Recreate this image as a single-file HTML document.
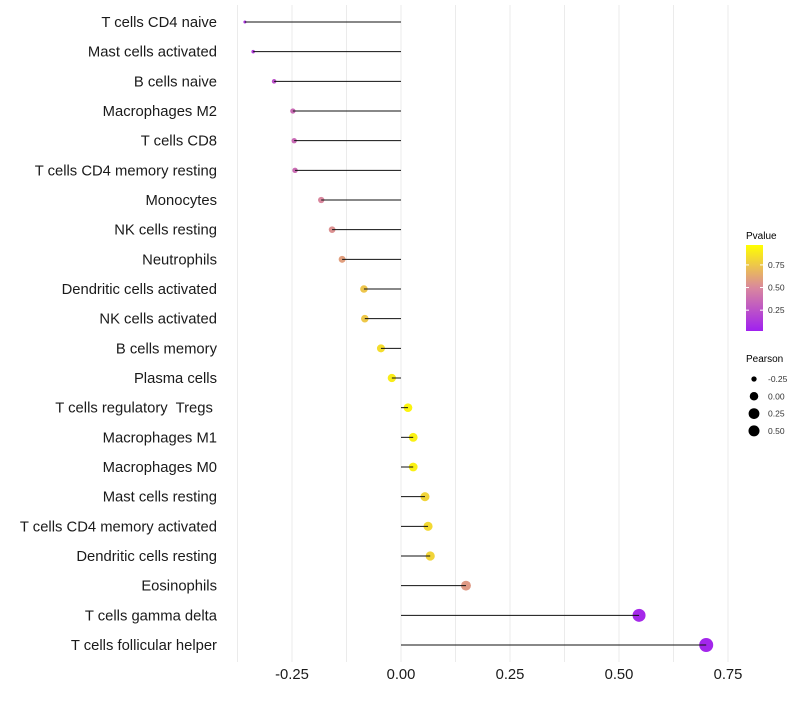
<!DOCTYPE html>
<html><head><meta charset="utf-8"><style>
body{margin:0;background:#fff;font-family:"Liberation Sans",sans-serif}
</style></head><body>
<svg id="c" width="800" height="700" xmlns="http://www.w3.org/2000/svg">
<defs><linearGradient id="pg" x1="0" y1="1" x2="0" y2="0">
<stop offset="0" stop-color="#a020f0"/><stop offset="0.5" stop-color="#d9879e"/><stop offset="1" stop-color="#ffff00"/>
</linearGradient></defs>
<g id="grid"></g>
<g id="dots"></g>
<g id="marks"></g>
<g id="ylab"></g>
<g id="xlab"></g>
<g>
<text x="746" y="239" font-size="10">Pvalue</text>
<rect x="746" y="245" width="17" height="86" fill="url(#pg)"/>
<g id="cbticks"></g>
</g>
<g id="sizeleg">
<text x="746" y="362" font-size="10">Pearson</text>
</g>
</svg>
<script>
const categories=["T cells CD4 naive","Mast cells activated","B cells naive","Macrophages M2","T cells CD8","T cells CD4 memory resting","Monocytes","NK cells resting","Neutrophils","Dendritic cells activated","NK cells activated","B cells memory","Plasma cells","T cells regulatory  Tregs ","Macrophages M1","Macrophages M0","Mast cells resting","T cells CD4 memory activated","Dendritic cells resting","Eosinophils","T cells gamma delta","T cells follicular helper"];
const pearson=[-0.358,-0.339,-0.291,-0.248,-0.245,-0.243,-0.183,-0.158,-0.135,-0.085,-0.083,-0.046,-0.021,0.016,0.028,0.028,0.055,0.062,0.067,0.149,0.546,0.70];
const pvalue=[0.1,0.14,0.24,0.36,0.36,0.37,0.5,0.54,0.6,0.76,0.77,0.86,0.92,0.96,0.94,0.94,0.82,0.84,0.82,0.58,0.04,0.03];
const xTicks=[-0.25,0,0.25,0.5,0.75];
const xTickLabels=["-0.25","0.00","0.25","0.50","0.75"];
const cbTicks=[0.25,0.5,0.75];
const sizeLegend=[-0.25,0,0.25,0.5];
const NS="http://www.w3.org/2000/svg";
const X=v=>401+v*436;
const Y=i=>22+i*(623/21);
const R=v=>Math.sqrt(Math.max(1.5,18.1+44.1*v));
function mk(t,a,p){const e=document.createElementNS(NS,t);for(const k in a)e.setAttribute(k,a[k]);p.appendChild(e);return e;}
function hex(h){return [1,3,5].map(i=>parseInt(h.substr(i,2),16));}
const stops=[[0,hex("#a020f0")],[0.5,hex("#d9879e")],[1,hex("#ffff00")]];
function col(p){p=Math.max(0,Math.min(1,p));let a=stops[0],b=stops[1];if(p>0.5){a=stops[1];b=stops[2];}const t=(p-a[0])/(b[0]-a[0]);return "rgb("+a[1].map((c,i)=>Math.round(c+(b[1][i]-c)*t)).join(",")+")";}
const grid=document.getElementById('grid');
for(let v=-0.375;v<=0.76;v+=0.125){const l=mk('line',{x1:X(v),x2:X(v),y1:5,y2:662,stroke:'#ebebeb','stroke-width':1},grid);}
const marks=document.getElementById('marks'),dots=document.getElementById('dots');
categories.forEach((c,i)=>{
 const d=mk('circle',{cx:X(pearson[i]),cy:Y(i),r:R(pearson[i]),fill:col(pvalue[i])},dots);
 
 const s=mk('line',{x1:X(0),x2:X(pearson[i]),y1:Y(i),y2:Y(i),stroke:'#111','stroke-width':1},marks);
 
 const t=mk('text',{x:217,y:Y(i)+5,'text-anchor':'end','font-size':14.8,fill:'#1a1a1a'},document.getElementById('ylab'));
 t.style.whiteSpace='pre';
 t.textContent=c;
});
xTicks.forEach((v,i)=>{const t=mk('text',{x:X(v),y:679,'text-anchor':'middle','font-size':14.8,fill:'#1a1a1a'},document.getElementById('xlab'));t.textContent=xTickLabels[i];});
const cb=document.getElementById('cbticks');
cbTicks.forEach(v=>{const y=331-(v-0.02)/0.95*86;
 mk('line',{x1:746,x2:749,y1:y,y2:y,stroke:'#fff'},cb);mk('line',{x1:760,x2:763,y1:y,y2:y,stroke:'#fff'},cb);
 const t=mk('text',{x:768,y:y+3,'font-size':8.5,fill:'#333'},cb);t.textContent=v.toFixed(2);});
const sl=document.getElementById('sizeleg');
sizeLegend.forEach((v,i)=>{const y=379+i*17.3;
 const c=mk('circle',{cx:754,cy:y,r:Math.min(R(v),5.5),fill:'#000'},sl);
 const t=mk('text',{x:768,y:y+3,'font-size':8.5,fill:'#333'},sl);t.textContent=v.toFixed(2);});
</script>
</body></html>
